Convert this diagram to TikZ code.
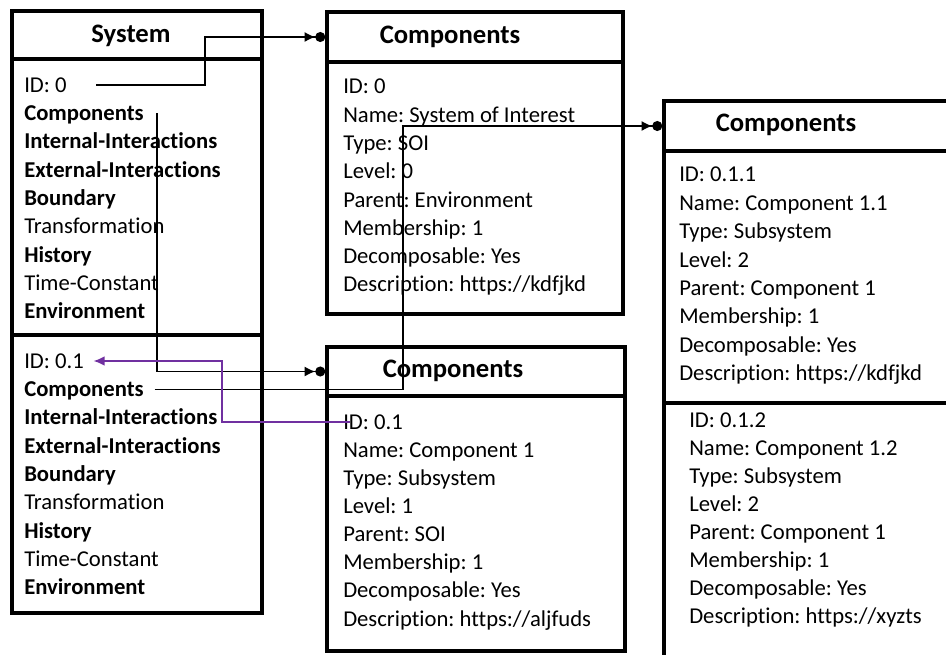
\documentclass[tikz,border=0pt]{standalone}
\usepackage{fontspec}
\setmainfont{Carlito}[Ligatures=NoCommon]
\usetikzlibrary{arrows.meta}
\definecolor{purp}{HTML}{7030A0}
\frenchspacing

\tikzset{
  box/.style={draw, line width=2.6pt},
  headbox/.style={draw, line width=2.6pt, inner sep=0pt, minimum height=37.5pt},
  title/.style={font=\fontsize{20}{24}\selectfont\bfseries, inner sep=0pt, text height=12.9pt, text depth=0pt},
  item/.style={anchor=west, inner sep=0pt, font=\fontsize{17}{20}\selectfont, text height=11pt, text depth=0pt},
  link/.style={line width=1.2pt, -{Latex[length=8pt,width=7.5pt]Circle[length=7.5pt]}},
  backlink/.style={draw=purp, line width=1.6pt, -{Latex[length=8.5pt,width=7.5pt]}},
}

\begin{document}
\begin{tikzpicture}[x=0.75pt,y=-0.75pt]
\useasboundingbox (0,0) rectangle (946,654);
% system
\node[headbox, minimum width=187.5pt, minimum height=36pt] (sys) at (137,35) {};
\draw[box] (12,59) rectangle (262,613);
\draw[box] (12,335) -- (262,335);
\node[title] (systitle) at (131,34) {System};
\foreach \t [count=\i] in {ID: 0, \textbf{Components}, \textbf{Internal-Interactions},
    \textbf{External-Interactions}, \textbf{Boundary}, Transformation, \textbf{History},
    Time-Constant, \textbf{Environment}}
  \node[item] (s0-\i) at (24,{85+28.3*(\i-1)}) {\t};
\foreach \t [count=\i] in {ID: 0.1, \textbf{Components}, \textbf{Internal-Interactions},
    \textbf{External-Interactions}, \textbf{Boundary}, Transformation, \textbf{History},
    Time-Constant, \textbf{Environment}}
  \node[item] (s1-\i) at (24,{361+28.3*(\i-1)}) {\t};
% components of the system
\node[headbox, minimum width=222pt] (c1) at (475,37) {};
\draw[box] (327,62) rectangle (623,314);
\node[title] (c1title) at (450,35) {Components};
\foreach \t [count=\i] in {ID: 0, Name: System of Interest, Type: SOI, Level: 0,
    Parent: Environment, Membership: 1, Decomposable: Yes, Description: https://kdfjkd}
  \node[item] (b1-\i) at (343,{86.5+28.3*(\i-1)}) {\t};
\node[headbox, minimum width=223.5pt, minimum height=36.75pt] (c2) at (476,371.5) {};
\draw[box] (327,396) rectangle (625,651);
\node[title] (c2title) at (453,369) {Components};
\foreach \t [count=\i] in {ID: 0.1, Name: Component 1, Type: Subsystem, Level: 1,
    Parent: SOI, Membership: 1, Decomposable: Yes, Description: https://aljfuds}
  \node[item] (b2-\i) at (343,{422+28.1*(\i-1)}) {\t};
% subcomponents
\node[headbox, minimum width=237pt] (c3) at (822,126) {};
\draw[box] (664,151) -- (664,670);
\draw[box] (664,403) -- (980,403);
\node[title] (c3title) at (786,122.5) {Components};
\foreach \t [count=\i] in {ID: 0.1.1, Name: Component 1.1, Type: Subsystem, Level: 2,
    Parent: Component 1, Membership: 1, Decomposable: Yes, Description: https://kdfjkd}
  \node[item] (b3-\i) at (679,{174.5+28.4*(\i-1)}) {\t};
\foreach \t [count=\i] in {ID: 0.1.2, Name: Component 1.2, Type: Subsystem, Level: 2,
    Parent: Component 1, Membership: 1, Decomposable: Yes, Description: https://xyzts}
  \node[item] (b4-\i) at (689,{420+28*(\i-1)}) {\t};
% links
\draw[link] ([xshift=22pt]s0-1.east) -| (205,0 |- c1.west) -- (c1.west);
\draw[link] ([xshift=10pt]s0-2.east) |- (c2.west);
\draw[link] ([xshift=8pt]s1-2.east) -| (403,0 |- c3.west) -- (c3.west);
\draw[backlink] ([xshift=5pt]b2-1.west) -| (222,0 |- s1-1.east) -- ([xshift=7pt]s1-1.east);
\end{tikzpicture}
\end{document}
